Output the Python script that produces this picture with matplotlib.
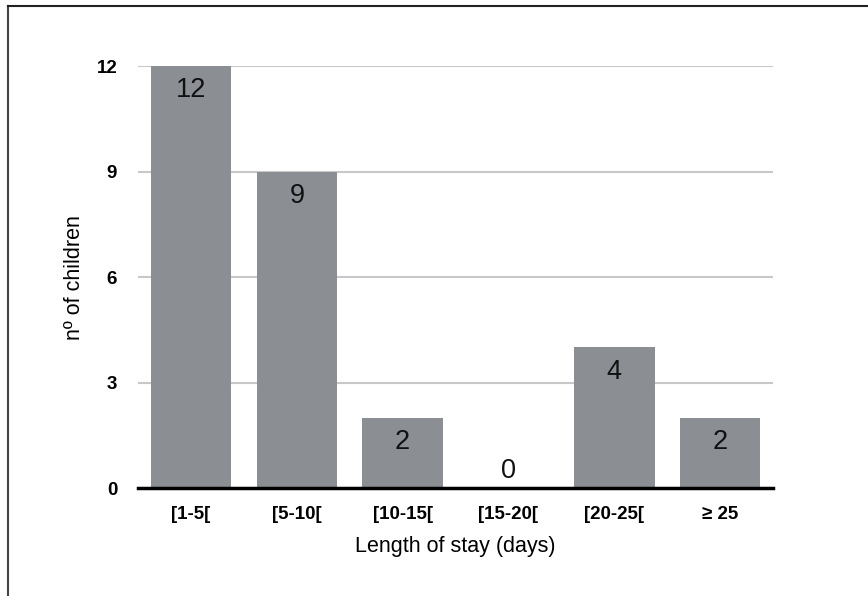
import matplotlib
matplotlib.use("Agg")
import matplotlib.pyplot as plt
from matplotlib.lines import Line2D

plt.rcParams['font.family'] = ['Liberation Sans', 'DejaVu Sans']

categories = ['[1-5[', '[5-10[', '[10-15[', '[15-20[', '[20-25[', '\u2265 25']
children = [12, 9, 2, 0, 4, 2]
yticks = [0, 3, 6, 9, 12]

fig = plt.figure(figsize=(8.68, 5.96), dpi=100)
ax = fig.add_axes([0.159, 0.181, 0.7316, 0.708])

x = range(len(categories))
bars = ax.bar(x, children, width=0.76, color='#8b8f93', zorder=2)

for i, v in enumerate(children):
    if v > 0:
        ax.annotate(str(v), (i, v), xytext=(0, -8), textcoords='offset points',
                    ha='center', va='top', fontsize=19.5, color='#111111')
    else:
        ax.annotate(str(v), (i, v), xytext=(0, 3), textcoords='offset points',
                    ha='center', va='bottom', fontsize=19.5, color='#111111')

ax.set_xlim(-0.5, len(categories) - 0.5)
ax.set_ylim(0, 12)
ax.set_yticks(yticks)
ax.set_xticks(list(x))
ax.set_xticklabels(categories)
ax.tick_params(axis='both', length=0, labelsize=13.5)
ax.tick_params(axis='y', pad=15)
ax.tick_params(axis='x', pad=13)
for lab in ax.get_xticklabels() + ax.get_yticklabels():
    lab.set_fontweight('bold')

ax.grid(axis='y', color='#c8c8c8', linewidth=1.5, zorder=0)
for s in ['top', 'right', 'left']:
    ax.spines[s].set_visible(False)
ax.spines['bottom'].set_linewidth(2.5)
ax.spines['bottom'].set_color('black')
ax.spines['bottom'].set_zorder(3)

ax.set_xlabel('Length of stay (days)', fontsize=15.5, labelpad=9)
ax.set_ylabel('nº of children', fontsize=15.5, labelpad=8)

# partial frame around the figure (top and left edges only)
fig.add_artist(Line2D([8 / 868, 8 / 868], [0, 1 - 6 / 596], transform=fig.transFigure,
                      color='#444444', linewidth=1.5))
fig.add_artist(Line2D([8 / 868, 1], [1 - 6 / 596, 1 - 6 / 596], transform=fig.transFigure,
                      color='#222222', linewidth=1.5))

fig.savefig('out.png', dpi=100)
